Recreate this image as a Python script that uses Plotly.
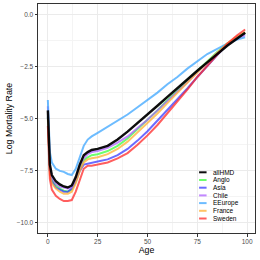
import plotly.graph_objects as go

ages = [0, 1, 2, 4, 6, 8, 10, 12, 14, 16, 18, 20, 22, 25, 30, 35, 40, 45, 50,
        55, 60, 65, 70, 75, 80, 85, 90, 95, 99]

allHMD = [-4.6, -7.2, -7.7, -8.0, -8.15, -8.25, -8.3, -8.2, -7.8, -7.2, -6.75, -6.6, -6.5,
          -6.45, -6.3, -6.0, -5.62, -5.22, -4.8, -4.38, -3.95, -3.52, -3.1, -2.7, -2.3,
          -1.9, -1.5, -1.15, -0.88]
Anglo = [-4.9, -7.5, -7.95, -8.2, -8.35, -8.45, -8.5, -8.4, -8.0, -7.4, -7.0, -6.85, -6.75,
         -6.7, -6.55, -6.3, -5.95, -5.5, -5.05, -4.6, -4.1, -3.65, -3.15, -2.7, -2.25,
         -1.8, -1.4, -1.1, -0.9]
Asia = [-4.9, -7.5, -8.0, -8.3, -8.4, -8.5, -8.5, -8.35, -8.0, -7.5, -7.2, -7.15, -7.1,
        -7.05, -6.95, -6.75, -6.45, -6.05, -5.6, -5.1, -4.6, -4.1, -3.55, -3.0, -2.45,
        -1.95, -1.45, -1.1, -0.9]
Chile = [-4.4, -7.3, -7.8, -8.1, -8.25, -8.3, -8.35, -8.3, -7.9, -7.3, -6.9, -6.7, -6.6,
         -6.55, -6.4, -6.15, -5.85, -5.45, -5.05, -4.6, -4.15, -3.7, -3.25, -2.75, -2.3,
         -1.85, -1.45, -1.15, -1.0]
EEurope = [-4.1, -6.6, -7.1, -7.4, -7.5, -7.55, -7.65, -7.7, -7.4, -6.8, -6.3, -6.0, -5.85,
           -5.68, -5.4, -5.1, -4.8, -4.45, -4.1, -3.75, -3.35, -3.0, -2.6, -2.25, -1.9,
           -1.65, -1.4, -1.2, -1.1]
France = [-5.0, -7.7, -8.1, -8.35, -8.5, -8.6, -8.6, -8.5, -8.1, -7.5, -7.1, -6.95, -6.9,
          -6.85, -6.7, -6.45, -6.1, -5.65, -5.2, -4.75, -4.25, -3.75, -3.25, -2.75, -2.3,
          -1.85, -1.4, -1.05, -0.85]
Sweden = [-5.35, -7.9, -8.4, -8.7, -8.85, -8.95, -8.95, -8.9, -8.5, -7.9, -7.4, -7.25, -7.25,
          -7.2, -7.1, -6.9, -6.65, -6.25, -5.8, -5.3, -4.75, -4.2, -3.6, -3.0, -2.45,
          -1.9, -1.4, -1.0, -0.72]

series_names = ["allHMD", "Anglo", "Asia", "Chile", "EEurope", "France", "Sweden"]
series_vals = [allHMD, Anglo, Asia, Chile, EEurope, France, Sweden]
colors = ["rgba(0,0,0,0.95)", "rgba(60,255,60,0.75)", "rgba(50,50,255,0.72)",
          "rgba(170,90,255,0.72)", "rgba(60,165,255,0.75)", "rgba(255,175,50,0.75)",
          "rgba(255,40,40,0.75)"]
widths = [2.4, 2.0, 2.0, 2.0, 2.0, 2.0, 2.0]

xticks = [0, 25, 50, 75, 100]
yticks = [0.0, -2.5, -5.0, -7.5, -10.0]
ytick_labels = ["0.0", "\u22122.5", "\u22125.0", "\u22127.5", "\u221210.0"]

fig = go.Figure()
order = [1, 2, 3, 4, 5, 6, 0]
for i in order:
    fig.add_trace(go.Scatter(x=ages, y=series_vals[i], mode="lines", name=series_names[i],
                             line=dict(color=colors[i], width=widths[i]), showlegend=False))

# manual legend (inside panel)
L, R, T, B = 37.7, 255.0, 4.0, 233.0
def px(x):
    return (x - L) / (R - L)
def py(y):
    return (B - y) / (B - T)

for k, name in enumerate(series_names):
    yy = 172.3 + k * 7.7
    fig.add_shape(type="line", xref="paper", yref="paper",
                  x0=px(199), x1=px(206.5), y0=py(yy), y1=py(yy),
                  line=dict(color=colors[k], width=2))
    fig.add_annotation(x=px(210.5), y=py(yy), xref="paper", yref="paper", text=name,
                       showarrow=False, xanchor="left", yanchor="middle",
                       font=dict(size=6.5, color="black", family="Liberation Sans"))

axis_common = dict(showgrid=True, gridcolor="#EBEBEB", gridwidth=0.8,
                   showline=True, linecolor="#333333", linewidth=1, mirror=True,
                   ticks="outside", ticklen=2.5, tickcolor="#333333", tickwidth=0.8,
                   zeroline=False, tickfont=dict(size=6.5, color="#4D4D4D", family="Liberation Sans"),
                   minor=dict(showgrid=True, gridcolor="#F4F4F4", gridwidth=0.5))

title_font = dict(size=8.8, color="black", family="Liberation Sans")
fig.update_layout(
    width=260, height=260,
    margin=dict(l=L, r=260 - R, t=T, b=260 - B),
    paper_bgcolor="white", plot_bgcolor="white",
    xaxis=dict(range=[-4.95, 103.95], tickvals=xticks, ticktext=[str(v) for v in xticks],
               title=dict(text="Age", font=title_font, standoff=2),
               **axis_common),
    yaxis=dict(range=[-10.48, 0.5], tickvals=yticks, ticktext=ytick_labels,
               title=dict(text="Log Mortality Rate", font=title_font, standoff=2),
               **axis_common),
)
fig.update_xaxes(minor=dict(tickvals=[12.5, 37.5, 62.5, 87.5], ticks=""))
fig.update_yaxes(minor=dict(tickvals=[-1.25, -3.75, -6.25, -8.75], ticks=""))

fig.write_html("out.html", config={"displayModeBar": False},
               post_script="document.body.style.margin='0';document.body.style.overflow='hidden';")
